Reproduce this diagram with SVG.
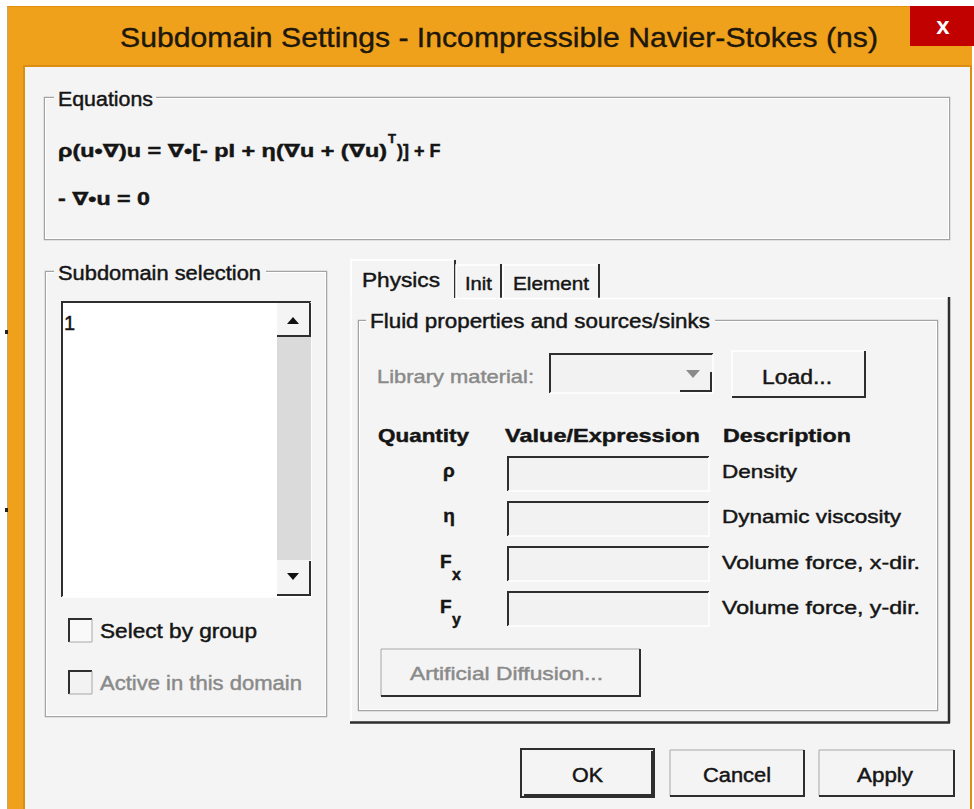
<svg xmlns="http://www.w3.org/2000/svg" width="974" height="809" viewBox="0 0 974 809">
<style>
.t{font-family:"Liberation Sans",Arial,"DejaVu Sans",sans-serif;fill:#151515;stroke:#151515;stroke-width:0.45;}
.s20{font-size:20px;}
.s19{font-size:19px;}
.b{font-weight:bold;}
.g{fill:#8a8a8a;stroke:#8a8a8a;}
.gb{fill:none;stroke:#a3a3a3;stroke-width:1.5;}
.gw{fill:none;stroke:#ffffff;stroke-width:1;}
.dk{stroke:#2e2e2e;stroke-width:2;fill:none;}
.lt{stroke:#ffffff;stroke-width:1.5;fill:none;}
.md{stroke:#a8a8a8;stroke-width:1;fill:none;}
.bg{fill:#f4f4f4;}
.fld{fill:#f2f2f2;}
</style>
<rect x="0" y="0" width="974" height="809" fill="#ffffff"/>
<g id="window-frame">
  <rect x="7" y="6" width="965" height="803" fill="#f0a11c"/>
  <line x1="7.5" y1="6" x2="7.5" y2="809" stroke="#c9a56a" stroke-width="1"/>
  <line x1="7" y1="6.5" x2="972" y2="6.5" stroke="#e08f10" stroke-width="1"/>
  <rect x="23" y="65" width="949" height="744" fill="#dc8e12"/>
  <rect x="25" y="67" width="945" height="742" fill="#f4f4f4"/>
  <rect x="5" y="330" width="3" height="4" fill="#222"/>
  <rect x="5" y="508" width="3" height="4" fill="#222"/>
</g>
<g id="titlebar">
  <text x="120" y="47" font-family="Liberation Sans, Arial, sans-serif" font-size="28" fill="#1d170c" stroke="#1d170c" stroke-width="0.4" textLength="758" lengthAdjust="spacingAndGlyphs">Subdomain Settings - Incompressible Navier-Stokes (ns)</text>
  <rect x="910" y="6" width="64" height="40" fill="#c10000"/>
  <text x="943" y="34" font-family="Liberation Sans, Arial, sans-serif" font-size="24" font-weight="bold" fill="#ffffff" text-anchor="middle">x</text>
</g>
<g id="equations">
  <rect class="gb" x="44.5" y="97.5" width="905" height="142"/>
  <rect class="gw" x="45.5" y="98.5" width="903" height="140"/>
  <rect class="bg" x="54" y="88" width="102" height="20"/>
  <text class="t s20" x="58" y="106" textLength="95" lengthAdjust="spacingAndGlyphs">Equations</text>
  <text class="t b" x="58" y="157" font-size="18" textLength="329" lengthAdjust="spacingAndGlyphs">ρ(u•∇)u = ∇•[- pI + η(∇u + (∇u)</text>
  <text class="t b" x="388" y="143" font-size="13">T</text>
  <text class="t b" x="397" y="157" font-size="18">)] + F</text>
  <text class="t b" x="58" y="205" font-size="18" textLength="92" lengthAdjust="spacingAndGlyphs">- ∇•u = 0</text>
</g>
<g id="subdomain-selection">
  <rect class="gb" x="45.5" y="271.5" width="281" height="445"/>
  <rect class="gw" x="46.5" y="272.5" width="279" height="443"/>
  <rect class="bg" x="54" y="260" width="212" height="22"/>
  <text class="t s20" x="58" y="280" textLength="203" lengthAdjust="spacingAndGlyphs">Subdomain selection</text>
  <g id="listbox">
    <rect x="61" y="301" width="250" height="296" fill="#ffffff"/>
    <polyline class="dk" points="62,597 62,302 311,302"/>
    <polyline class="lt" points="62,597 311,597 311,302"/>
    <text class="t s20" x="64" y="330">1</text>
    <rect x="277" y="337" width="34" height="223" fill="#dadada"/>
    <rect x="277" y="303" width="33" height="33" fill="#f4f4f4"/>
    <polyline class="dk" points="277,336 310,336 310,303"/>
    <polygon points="287,324 299,324 293,317" fill="#111"/>
    <rect x="277" y="560" width="33" height="35" fill="#f4f4f4"/>
    <polyline class="dk" points="277,595 310,595 310,561"/>
    <polygon points="287,573 299,573 293,580" fill="#111"/>
  </g>
  <g id="select-by-group">
    <rect x="68" y="618" width="24" height="24" fill="#f9f9f9"/>
    <polyline class="dk" points="69,642 69,619 92,619"/>
    <polyline class="md" points="69,642 92,642 92,619"/>
    <text class="t s20" x="100" y="638" textLength="157" lengthAdjust="spacingAndGlyphs">Select by group</text>
  </g>
  <g id="active-in-domain">
    <rect x="68" y="670" width="24" height="24" fill="#f2f2f2"/>
    <polyline class="dk" points="69,694 69,671 92,671"/>
    <polyline class="md" points="69,694 92,694 92,671"/>
    <text class="t s20 g" x="100" y="690" textLength="202" lengthAdjust="spacingAndGlyphs">Active in this domain</text>
  </g>
</g>
<g id="tabs">
  <polyline class="lt" points="351,298 351,260 453,260"/>
  <line x1="455" y1="260" x2="455" y2="298" stroke="#2e2e2e" stroke-width="2"/>
  <polyline class="lt" points="456,298 456,265 499,265"/>
  <line x1="501" y1="264" x2="501" y2="298" stroke="#2e2e2e" stroke-width="2"/>
  <polyline class="lt" points="503,298 503,265 597,265"/>
  <line x1="599" y1="264" x2="599" y2="298" stroke="#2e2e2e" stroke-width="2"/>
  <text class="t s20" x="362" y="287" textLength="78" lengthAdjust="spacingAndGlyphs">Physics</text>
  <text class="t s19" x="465" y="290" textLength="27" lengthAdjust="spacingAndGlyphs">Init</text>
  <text class="t s19" x="513" y="290" textLength="76" lengthAdjust="spacingAndGlyphs">Element</text>
</g>
<g id="tab-panel">
  <polyline class="lt" points="351,298 351,722"/>
  <polyline class="lt" points="455,298.5 948,298.5"/>
  <line x1="949" y1="297" x2="949" y2="723" stroke="#2e2e2e" stroke-width="2.5"/>
  <line x1="350" y1="722.5" x2="950" y2="722.5" stroke="#2e2e2e" stroke-width="2.5"/>
</g>
<g id="fluid-properties">
  <rect class="gb" x="358.5" y="320.5" width="579" height="390"/>
  <rect class="gw" x="359.5" y="321.5" width="577" height="388"/>
  <rect class="bg" x="366" y="310" width="349" height="22"/>
  <text class="t s20" x="370" y="328" textLength="340" lengthAdjust="spacingAndGlyphs">Fluid properties and sources/sinks</text>
  <g id="library-material">
    <text class="t s19 g" x="377" y="383" textLength="157" lengthAdjust="spacingAndGlyphs">Library material:</text>
    <rect x="549" y="353" width="164" height="40" fill="#f2f2f2"/>
    <polyline class="dk" points="550,393 550,354 713,354"/>
    <polyline class="lt" points="550,393 713,393 713,354"/>
    <polyline class="dk" points="680,391 711,391 711,372"/>
    <polygon points="686,370 700,370 693,378" fill="#8a8a8a"/>
  </g>
  <g id="load-button">
    <rect x="731" y="350" width="135" height="48" fill="#f4f4f4"/>
    <polyline class="lt" points="732,397 732,351 865,351"/>
    <polyline class="dk" points="732,397 865,397 865,351"/>
    <text class="t s20" x="762" y="384" textLength="70" lengthAdjust="spacingAndGlyphs">Load...</text>
  </g>
  <g id="headers">
    <text class="t s19 b" x="378" y="442" textLength="91" lengthAdjust="spacingAndGlyphs">Quantity</text>
    <text class="t s19 b" x="505" y="442" textLength="195" lengthAdjust="spacingAndGlyphs">Value/Expression</text>
    <text class="t s19 b" x="723" y="442" textLength="128" lengthAdjust="spacingAndGlyphs">Description</text>
  </g>
  <g id="row-rho">
    <text class="t s19 b" x="449" y="477" text-anchor="middle">ρ</text>
    <rect class="fld" x="507" y="456" width="202" height="35"/>
    <polyline class="dk" points="508,491 508,457 709,457"/>
    <polyline class="lt" points="508,491 709,491 709,457"/>
    <text class="t s19" x="722" y="478" textLength="75" lengthAdjust="spacingAndGlyphs">Density</text>
  </g>
  <g id="row-eta">
    <text class="t s19 b" x="449" y="522" text-anchor="middle">η</text>
    <rect class="fld" x="507" y="501" width="202" height="35"/>
    <polyline class="dk" points="508,536 508,502 709,502"/>
    <polyline class="lt" points="508,536 709,536 709,502"/>
    <text class="t s19" x="722" y="523" textLength="179" lengthAdjust="spacingAndGlyphs">Dynamic viscosity</text>
  </g>
  <g id="row-fx">
    <text class="t s19 b" x="440" y="568">F</text>
    <text class="t b" x="452" y="580" font-size="16">x</text>
    <rect class="fld" x="507" y="546" width="202" height="35"/>
    <polyline class="dk" points="508,581 508,547 709,547"/>
    <polyline class="lt" points="508,581 709,581 709,547"/>
    <text class="t s19" x="722" y="569" textLength="198" lengthAdjust="spacingAndGlyphs">Volume force, x-dir.</text>
  </g>
  <g id="row-fy">
    <text class="t s19 b" x="440" y="613">F</text>
    <text class="t b" x="452" y="625" font-size="16">y</text>
    <rect class="fld" x="507" y="591" width="202" height="35"/>
    <polyline class="dk" points="508,626 508,592 709,592"/>
    <polyline class="lt" points="508,626 709,626 709,592"/>
    <text class="t s19" x="722" y="614" textLength="198" lengthAdjust="spacingAndGlyphs">Volume force, y-dir.</text>
  </g>
  <g id="artificial-diffusion">
    <rect x="380" y="648" width="261" height="49" fill="#f4f4f4"/>
    <polyline class="md" points="381,696 381,649 640,649"/>
    <polyline class="dk" points="381,696 640,696 640,649"/>
    <text class="t s19 g" x="410" y="680" textLength="193" lengthAdjust="spacingAndGlyphs">Artificial Diffusion...</text>
  </g>
</g>
<g id="ok-button">
  <rect x="521" y="749" width="133" height="48" fill="#f4f4f4" stroke="#2e2e2e" stroke-width="2"/>
  <polyline class="dk" points="524,795 652,795 652,751"/>
  <text class="t s20" x="572" y="782" textLength="31" lengthAdjust="spacingAndGlyphs">OK</text>
</g>
<g id="cancel-button">
  <rect x="669" y="749" width="136" height="48" fill="#f4f4f4"/>
  <polyline class="md" points="670,796 670,750 804,750"/>
  <polyline class="dk" points="670,796 804,796 804,750"/>
  <text class="t s20" x="703" y="782" textLength="68" lengthAdjust="spacingAndGlyphs">Cancel</text>
</g>
<g id="apply-button">
  <rect x="818" y="749" width="137" height="48" fill="#f4f4f4"/>
  <polyline class="md" points="819,796 819,750 954,750"/>
  <polyline class="dk" points="819,796 954,796 954,750"/>
  <text class="t s20" x="857" y="782" textLength="56" lengthAdjust="spacingAndGlyphs">Apply</text>
</g>
</svg>
